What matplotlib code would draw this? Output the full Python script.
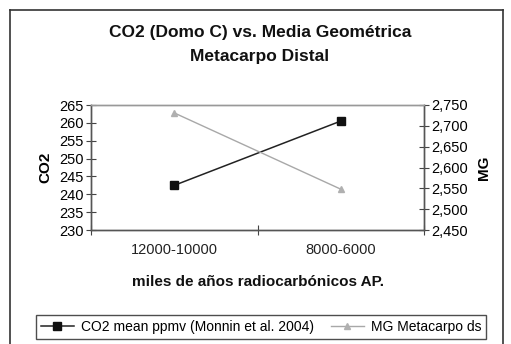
import matplotlib
matplotlib.use("Agg")
import matplotlib.pyplot as plt
from matplotlib.lines import Line2D
from matplotlib.ticker import FuncFormatter

plt.rcParams["font.family"] = ["Liberation Sans", "DejaVu Sans"]

# data
categories = ["12000-10000", "8000-6000"]
co2_ppmv = [242.5, 260.5]
mg_metacarpo = [2.731, 2.548]

W, H = 511, 344
fig = plt.figure(figsize=(W / 100, H / 100), dpi=100)

# outer chart frame (bottom edge runs off the image)
for xs, ys in [((10, 10), (10, H + 5)), ((10, 503), (10, 10)), ((503, 503), (10, H + 5))]:
    fig.add_artist(Line2D([x / W for x in xs], [1 - y / H for y in ys],
                          color="#333333", lw=1.2, transform=fig.transFigure))

ax = fig.add_axes([91 / W, 1 - 230 / H, (424 - 91) / W, (230 - 105) / H])
ax2 = ax.twinx()

x = range(len(categories))
l1, = ax.plot(x, co2_ppmv, color="#222222", lw=1.1, marker="s", ms=6,
              mfc="#111111", mec="#111111", label="CO2 mean ppmv (Monnin et al. 2004)")
l2, = ax2.plot(x, mg_metacarpo, color="#a8a8a8", lw=1.0, marker="^", ms=5,
               mfc="#b0b0b0", mec="#b0b0b0", label="MG Metacarpo ds")

ax.set_xlim(-0.5, 1.5)
ax.set_ylim(230, 265)
ax.set_yticks(range(230, 266, 5))
ax2.set_ylim(2.45, 2.75)
ax2.set_yticks([2.45, 2.5, 2.55, 2.6, 2.65, 2.7, 2.75])
ax2.yaxis.set_major_formatter(FuncFormatter(lambda v, p: f"{v:.3f}".replace(".", ",")))

ax.set_xticks([-0.5, 0.5, 1.5])
ax.set_xticklabels([])
ax.set_xticks(list(x), minor=True)
ax.set_xticklabels(categories, minor=True)
ax.tick_params(axis="x", which="minor", length=0, pad=9, labelsize=10.5, colors="#222222")
ax.tick_params(axis="x", which="major", direction="inout", length=7, color="#444444")
ax.tick_params(axis="y", direction="inout", length=7, labelsize=10.5, pad=2, color="#444444")
ax2.tick_params(axis="y", direction="inout", length=7, labelsize=10.5, pad=2, color="#444444")

for a in (ax, ax2):
    for s in a.spines.values():
        s.set_color("#555555")
        s.set_linewidth(1.0)
ax.spines["top"].set_color("#999999")
ax2.spines["top"].set_color("#999999")

ax.set_ylabel("CO2", fontsize=11, fontweight="bold", labelpad=5)
ax2.set_ylabel("MG", fontsize=11, fontweight="bold", labelpad=6, rotation=90)

fig.text(260 / W, 1 - 33 / H, "CO2 (Domo C) vs. Media Geométrica", ha="center", va="center",
         fontsize=12.5, fontweight="bold", color="#111111")
fig.text(260 / W, 1 - 57 / H, "Metacarpo Distal", ha="center", va="center",
         fontsize=12.5, fontweight="bold", color="#111111")
fig.text(258 / W, 1 - 282 / H, "miles de años radiocarbónicos AP.", ha="center", va="center",
         fontsize=11, fontweight="bold", color="#111111")

leg = fig.legend(handles=[l1, l2], loc="center", bbox_to_anchor=(261 / W, 1 - 327 / H),
                 ncol=2, fontsize=10, frameon=True, fancybox=False, handlelength=2.4,
                 columnspacing=1.2, handletextpad=0.5, borderpad=0.35)
leg.get_frame().set_edgecolor("#222222")
leg.get_frame().set_linewidth(1.0)

fig.savefig("out.png", dpi=100)
